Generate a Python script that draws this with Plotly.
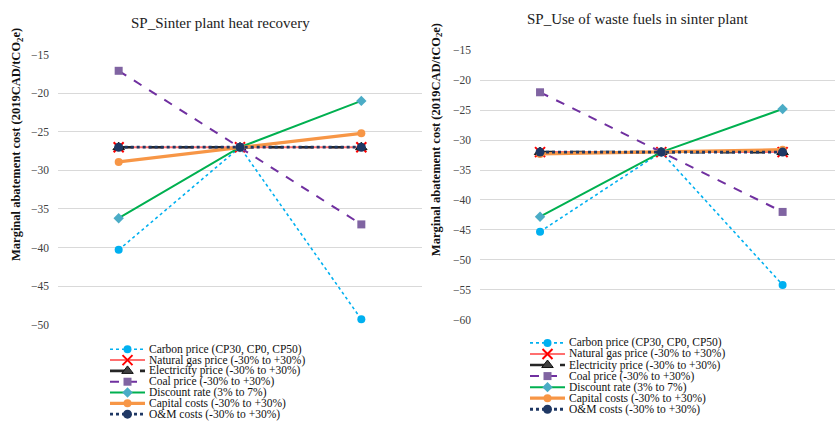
import plotly.graph_objects as go

# Sensitivity cases (low, base, high) for the two sinter-plant measures
cases = [0, 1, 2]

series_names = [
    "Carbon price (CP30, CP0, CP50)",
    "Natural gas price (-30% to +30%)",
    "Electricity price (-30% to +30%)",
    "Coal price (-30% to +30%)",
    "Discount rate (3% to 7%)",
    "Capital costs (-30% to +30%)",
    "O&M costs (-30% to +30%)",
]

# SP_Sinter plant heat recovery
heat_carbon = [-40.3, -27.0, -49.3]
heat_gas = [-27.0, -27.0, -27.0]
heat_elec = [-27.0, -27.0, -27.0]
heat_coal = [-17.1, -27.0, -37.0]
heat_discount = [-36.2, -27.0, -21.0]
heat_capital = [-28.9, -27.0, -25.2]
heat_om = [-27.0, -27.0, -27.0]

# SP_Use of waste fuels in sinter plant
waste_carbon = [-45.3, -32.0, -54.2]
waste_gas = [-32.0, -32.0, -32.0]
waste_elec = [-32.0, -32.0, -32.0]
waste_coal = [-22.0, -32.0, -42.0]
waste_discount = [-42.8, -32.0, -24.8]
waste_capital = [-32.3, -32.0, -31.6]
waste_om = [-32.0, -32.0, -32.0]

heat_values = [heat_carbon, heat_gas, heat_elec, heat_coal,
               heat_discount, heat_capital, heat_om]
waste_values = [waste_carbon, waste_gas, waste_elec, waste_coal,
                waste_discount, waste_capital, waste_om]

titles = ["SP_Sinter plant heat recovery", "SP_Use of waste fuels in sinter plant"]
y_title = "Marginal abatement cost (2019CAD/tCO<sub>2</sub>e)"

SERIF = "Liberation Serif"

# line / marker styling per series
styles = [
    dict(line=dict(color="#00B0F0", width=1.6, dash="dot"),
         marker=dict(symbol="circle", size=8, color="#00B0F0")),
    dict(line=dict(color="#FF6F6F", width=2),
         marker=dict(symbol="x-thin", size=10, color="#FF0000",
                     line=dict(color="#FF0000", width=2))),
    dict(line=dict(color="#262626", width=2.6, dash="longdash"),
         marker=dict(symbol="triangle-up", size=10, color="#404040",
                     line=dict(color="#111111", width=1))),
    dict(line=dict(color="#7030A0", width=2, dash="dash"),
         marker=dict(symbol="square", size=8, color="#8064A2")),
    dict(line=dict(color="#00B050", width=2),
         marker=dict(symbol="diamond", size=8, color="#4BACC6")),
    dict(line=dict(color="#F79646", width=3.2),
         marker=dict(symbol="circle", size=8, color="#F79646")),
    dict(line=dict(color="#1F3864", width=2.8, dash="dot"),
         marker=dict(symbol="circle", size=9, color="#1F3864")),
]

fig = go.Figure()

panels = [
    dict(values=heat_values, xa="x", ya="y", lx="x3", ly="y3"),
    dict(values=waste_values, xa="x2", ya="y2", lx="x4", ly="y4"),
]

for p in panels:
    for name, vals, st in zip(series_names, p["values"], styles):
        fig.add_trace(go.Scatter(
            x=cases, y=vals, mode="lines+markers", name=name,
            line=st["line"], marker=st["marker"],
            xaxis=p["xa"], yaxis=p["ya"], showlegend=False,
            cliponaxis=False,
        ))
    # legend keys: a short line sample with a marker in the middle
    for row, st in enumerate(styles):
        fig.add_trace(go.Scatter(
            x=[0, 1], y=[row, row], mode="lines", line=st["line"],
            xaxis=p["lx"], yaxis=p["ly"], showlegend=False, hoverinfo="skip",
            cliponaxis=False,
        ))
        fig.add_trace(go.Scatter(
            x=[0.5], y=[row], mode="markers", marker=st["marker"],
            xaxis=p["lx"], yaxis=p["ly"], showlegend=False, hoverinfo="skip",
            cliponaxis=False,
        ))

W, H = 835, 425


def px_x(v):
    return v / W


def px_y(v):
    return 1 - v / H


yaxis_common = dict(
    dtick=5, showgrid=True, gridcolor="#D9D9D9", gridwidth=1,
    zeroline=False, showline=False, ticks="",
    tickfont=dict(family=SERIF, size=11.5, color="#404040"),
    ticklabelstandoff=8,
)
xaxis_common = dict(showgrid=False, zeroline=False, showline=False,
                    showticklabels=False, ticks="")
hidden = dict(visible=False, showgrid=False, zeroline=False)

fig.update_layout(
    width=W, height=H,
    margin=dict(l=0, r=0, t=0, b=0),
    paper_bgcolor="white", plot_bgcolor="white",
    font=dict(family=SERIF, color="#222222"),
    xaxis=dict(domain=[px_x(58), px_x(422)], range=[-0.5, 2.5], **xaxis_common),
    yaxis=dict(domain=[px_y(328), px_y(50)], range=[-50, -15], anchor="x",
               **yaxis_common),
    xaxis2=dict(domain=[px_x(480), 1.0], range=[-0.495, 2.432], anchor="y2",
                **xaxis_common),
    yaxis2=dict(domain=[px_y(322.7), px_y(45.7)], range=[-60, -15], anchor="x2",
                **yaxis_common),
    xaxis3=dict(domain=[px_x(110), px_x(145)], range=[0, 1], anchor="y3", **hidden),
    yaxis3=dict(domain=[0, 0.19], range=[6.45, -0.81], anchor="x3", **hidden),
    xaxis4=dict(domain=[px_x(530), px_x(565)], range=[0, 1], anchor="y4", **hidden),
    yaxis4=dict(domain=[0, 0.19], range=[6.88, -0.215], anchor="x4", **hidden),
    hovermode=False,
)

annotations = []
# panel titles
annotations.append(dict(text=titles[0], x=px_x(220), y=px_y(17), xref="paper",
                        yref="paper", showarrow=False, xanchor="center",
                        yanchor="middle", font=dict(family=SERIF, size=15, color="#222222")))
annotations.append(dict(text=titles[1], x=px_x(638), y=px_y(13), xref="paper",
                        yref="paper", showarrow=False, xanchor="center",
                        yanchor="middle", font=dict(family=SERIF, size=15, color="#222222")))
# y-axis titles
for cx, cy in [(17, 143), (437, 137)]:
    annotations.append(dict(text="<b>" + y_title + "</b>", x=px_x(cx), y=px_y(cy),
                            xref="paper", yref="paper", showarrow=False,
                            textangle=-90, xanchor="center", yanchor="middle",
                            font=dict(family=SERIF, size=12.5, color="#111111")))
# legend labels
for lx_text, xr, yr in [(148, "paper", "y3"), (568, "paper", "y4")]:
    for row, name in enumerate(series_names):
        annotations.append(dict(text=name, x=px_x(lx_text), y=row, xref=xr, yref=yr,
                                showarrow=False, xanchor="left", yanchor="middle",
                                borderpad=0,
                                font=dict(family=SERIF, size=11.5, color="#111111")))

fig.update_layout(annotations=annotations)

fig.write_html("out.html")
